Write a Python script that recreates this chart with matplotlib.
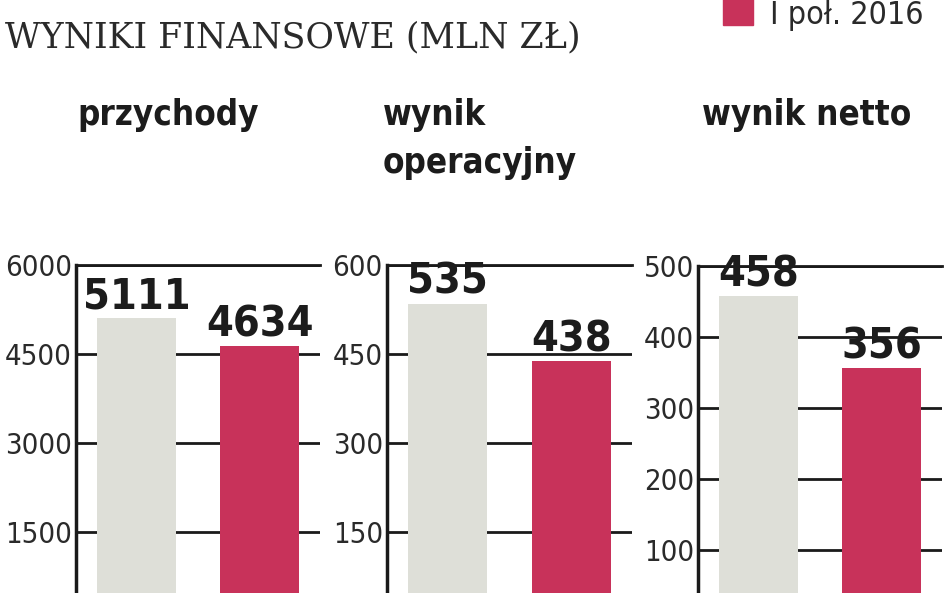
import matplotlib
matplotlib.use("Agg")
import matplotlib.pyplot as plt
import matplotlib.transforms as mtransforms
from matplotlib import font_manager
from matplotlib.patches import Rectangle

# dane (mln zł)
periods = ["I poł. 2015", "I poł. 2016"]
panels = ["przychody", "wynik\noperacyjny", "wynik netto"]
values = [[5111, 4634], [535, 438], [458, 356]]
yticks = [[0, 1500, 3000, 4500, 6000], [0, 150, 300, 450, 600], [0, 100, 200, 300, 400, 500]]
colors = ["#dedfd8", "#c8325a"]

names = {f.name for f in font_manager.fontManager.ttflist}
if "Liberation Sans Narrow" in names:
    cond = dict(family="Liberation Sans Narrow")
else:
    cond = dict(family="DejaVu Sans", stretch="condensed")

W, H = 948, 593
fig = plt.figure(figsize=(W / 100, H / 100), dpi=100)

# pozycje osi w pikselach: lewa, prawa, gora
boxes = [(76, 320, 265), (387, 632, 265), (698, 942, 266)]
bottom = 621
title_x = [77, 383, 702]
title_y = [125, 173, 125]

for k, (l, r, t) in enumerate(boxes):
    ax = fig.add_axes([l / W, (H - bottom) / H, (r - l) / W, (bottom - t) / H])
    ax.bar([0, 1], values[k], width=0.64, color=colors, zorder=3)
    ax.set_xlim(-0.49, 1.49)
    ax.set_ylim(0, yticks[k][-1])
    ax.set_yticks(yticks[k][1:])
    ax.set_yticklabels([str(v) for v in yticks[k][1:]], fontsize=21, color="#2a2a2a", **cond)
    off = mtransforms.ScaledTranslation(0, 3 / 100, fig.dpi_scale_trans)
    for lab in ax.get_yticklabels():
        lab.set_transform(lab.get_transform() + off)
    ax.set_xticks([])
    ax.tick_params(axis="y", length=0, pad=3)
    ax.grid(axis="y", color="#1a1a1a", linewidth=2, zorder=1)
    ax.set_axisbelow(True)
    for s in ["right", "bottom"]:
        ax.spines[s].set_visible(False)
    ax.spines["left"].set_linewidth(2.5)
    ax.spines["top"].set_linewidth(2)
    ax.spines["left"].set_color("#1a1a1a")
    ax.spines["top"].set_color("#1a1a1a")
    for i, v in enumerate(values[k]):
        ax.annotate(str(v), (i, v), xytext=(0, 7), textcoords="offset points",
                    ha="center", va="baseline", fontsize=31, fontweight="bold",
                    color="#1c1c1c", zorder=5, annotation_clip=False, **cond)
    fig.text(title_x[k] / W, 1 - title_y[k] / H, panels[k], ha="left", va="baseline",
             fontsize=25, fontweight="bold", color="#1c1c1c", linespacing=1.5, **cond)

# naglowek
fig.text(5 / W, 1 - 47 / H, "WYNIKI FINANSOWE (MLN ZŁ)", family="DejaVu Serif",
         fontsize=25, color="#2a2a2a", ha="left", va="baseline")

# legenda (ucieta u gory)
fig.patches.append(Rectangle((723 / W, 1 - 25 / H), 30 / W, 30 / H,
                             transform=fig.transFigure, color=colors[1]))
fig.text(770 / W, 1 - 24 / H, periods[1], ha="left", va="baseline",
         fontsize=23, color="#2a2a2a", **cond)

fig.savefig("out.png", dpi=100)
